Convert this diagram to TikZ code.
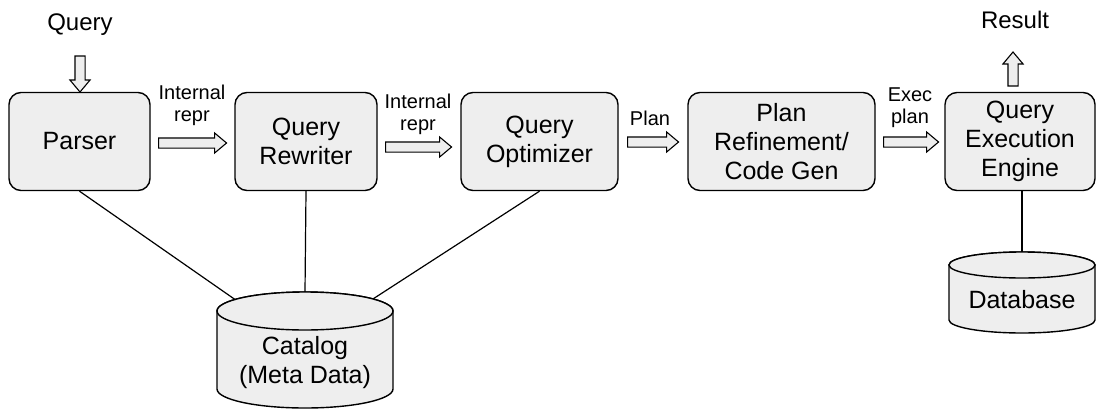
\documentclass[tikz,border=0pt]{standalone}
\usepackage{fontspec}
\setmainfont{Liberation Sans}
\usetikzlibrary{shapes.arrows,calc}
\definecolor{boxgray}{HTML}{EEEEEE}
\tikzset{
  stage/.style={draw=black, line width=1.4pt, fill=boxgray, rounded corners=12pt,
    minimum height=98pt, align=center, inner sep=0pt,
    font=\fontsize{25}{29}\selectfont},
  barrow/.style={single arrow, draw=black, fill=boxgray, line width=1.1pt,
    inner xsep=0pt, inner ysep=4.5pt, single arrow head extend=5pt,
    single arrow tip angle=80},
  lbl/.style={align=center, inner sep=0pt, font=\fontsize{20}{22}\selectfont},
  io/.style={inner sep=0pt, font=\fontsize{24}{28}\selectfont},
  link/.style={draw=black, line width=1.2pt},
  cyl/.style={draw=black, line width=1.4pt, fill=boxgray},
  cyltext/.style={align=center, inner sep=0pt, font=\fontsize{25}{29}\selectfont}
}
\begin{document}
\begin{tikzpicture}[x=1pt, y=-1pt]
\useasboundingbox (0,0) rectangle (1097,410);

% stages
\node[stage, minimum width=141pt] (parser) at (79.5,141.5) {Parser};
\node[stage, minimum width=142pt] (rewriter) at (306,141.5) {Query\\Rewriter};
\node[stage, minimum width=157pt] (optimizer) at (539.5,141.5) {Query\\Optimizer};
\node[stage, minimum width=187pt] (refine) at (781.5,141.5) {Plan\\Refinement/\\Code Gen};
\node[stage, minimum width=150pt] (engine) at (1020,141.5) {Query\\Execution\\Engine};

% input / output
\node[io] (query) at (80,25) {Query};
\node[io] (result) at (1015,20) {Result};
\node[barrow, minimum height=36pt, rotate=-90] (qarrow) at (80,71) {};
\node[barrow, minimum height=34pt, rotate=90] (rarrow) at (1013,72) {};

% block arrows between stages
\node[barrow, minimum height=68pt, anchor=tail] (a1) at (158,143) {};
\node[barrow, minimum height=66pt, anchor=tail] (a2) at (385,147) {};
\node[barrow, minimum height=51pt, anchor=tail] (a3) at (627,142) {};
\node[barrow, minimum height=55pt, anchor=tail] (a4) at (883,142) {};

% labels
\node[lbl] (l1) at (192,105) {Internal\\repr};
\node[lbl] (l2) at (418,114) {Internal\\repr};
\node[lbl] (l3) at (650,118) {Plan};
\node[lbl] (l4) at (910,108) {Exec\\plan};

% catalog cylinder
\coordinate (cattop) at (305,311);
\coordinate (catbot) at (305,389);
\coordinate (catL) at ($(cattop)+(142.7:88pt and 19pt)$);
\coordinate (catM) at ($(cattop)+(90:88pt and 19pt)$);
\coordinate (catR) at ($(cattop)+(39.4:88pt and 19pt)$);
\draw[link] (parser.south) -- (catL);
\draw[link] (rewriter.south) -- (catM);
\draw[link] (optimizer.south) -- (catR);
\path[cyl] ($(cattop)+(-88pt,0)$) -- ($(catbot)+(-88pt,0)$)
  arc[start angle=180, end angle=360, x radius=88pt, y radius=19pt]
  -- ($(cattop)+(88pt,0)$) arc[start angle=0, end angle=180, x radius=88pt, y radius=19pt] -- cycle;
\draw[cyl] (cattop) ellipse[x radius=88pt, y radius=19pt];
\node[cyltext] (catalog) at (305,363) {Catalog\\(Meta Data)};

% database cylinder
\coordinate (dbtop) at (1022,265);
\coordinate (dbbot) at (1022,320);
\coordinate (dbM) at ($(dbtop)+(90:73pt and 13pt)$);
\draw[link] (engine.south -| dbM) -- (dbM);
\path[cyl] ($(dbtop)+(-73pt,0)$) -- ($(dbbot)+(-73pt,0)$)
  arc[start angle=180, end angle=360, x radius=73pt, y radius=13pt]
  -- ($(dbtop)+(73pt,0)$) arc[start angle=0, end angle=180, x radius=73pt, y radius=13pt] -- cycle;
\draw[cyl] (dbtop) ellipse[x radius=73pt, y radius=13pt];
\node[cyltext] (database) at (1022,300) {Database};
\end{tikzpicture}
\end{document}
